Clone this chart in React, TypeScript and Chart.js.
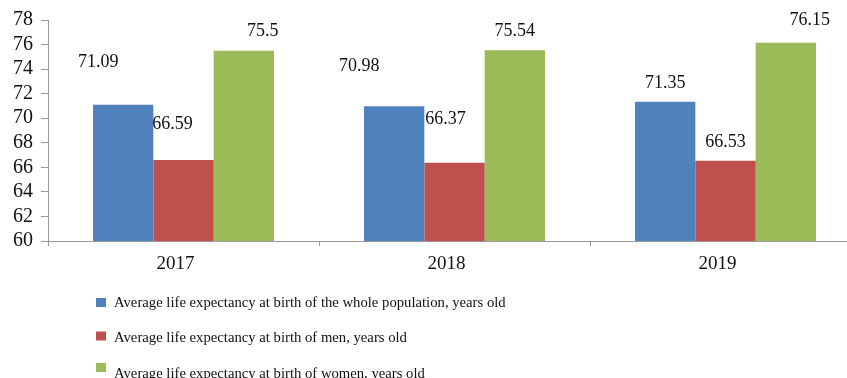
import React, { useEffect, useRef } from "react";
import { Chart, registerables } from "chart.js";

Chart.register(...registerables);

const categories = ["2017", "2018", "2019"];
const seriesNames = [
  "Average life expectancy at birth of the whole population, years old",
  "Average life expectancy at birth of men, years old",
  "Average life expectancy at birth of women, years old",
];
const wholePopulation = [71.09, 70.98, 71.35];
const men = [66.59, 66.37, 66.53];
const women = [75.5, 75.54, 76.15];
const yMin = 60;
const yMax = 78;
const yStep = 2;

const colors = ["#4F81BD", "#C0504D", "#9BBB59"];
// label offsets (text centre relative to bar top centre)
const labelOffsets = [
  [[-25, -43], [-35, -40], [0, -18]],
  [[-11, -36], [-9, -44], [0, -19]],
  [[19, -19], [0, -19], [24, -22]],
];
const legendBoxShift = [0, -2, -6];

const FONT = "'Liberation Serif', 'Times New Roman', serif";

const valueLabels = {
  id: "valueLabels",
  afterDatasetsDraw(chart: any) {
    const ctx = chart.ctx;
    ctx.save();
    ctx.font = `18px ${FONT}`;
    ctx.fillStyle = "#111";
    ctx.textAlign = "center";
    ctx.textBaseline = "middle";
    chart.data.datasets.forEach((ds: any, di: number) => {
      const meta = chart.getDatasetMeta(di);
      meta.data.forEach((bar: any, i: number) => {
        const off = labelOffsets[di][i];
        ctx.fillText(String(ds.data[i]), bar.x + off[0], bar.y + off[1]);
      });
    });
    ctx.restore();
  },
};

const customLegend = {
  id: "customLegend",
  afterDraw(chart: any) {
    const ctx = chart.ctx;
    const area = chart.chartArea;
    ctx.save();
    ctx.font = `14.7px ${FONT}`;
    ctx.textBaseline = "middle";
    ctx.textAlign = "left";
    chart.data.datasets.forEach((ds: any, i: number) => {
      const y = area.bottom + 62 + i * 35.5;
      const x = area.left + 48;
      ctx.fillStyle = ds.backgroundColor;
      ctx.fillRect(x, y - 5 + legendBoxShift[i], 10, 9);
      ctx.fillStyle = "#111";
      ctx.fillText(ds.label, x + 18, y);
    });
    ctx.restore();
  },
};

export default function App() {
  const ref = useRef<HTMLCanvasElement | null>(null);
  useEffect(() => {
    if (!ref.current) return;
    const chart = new Chart(ref.current, {
      type: "bar",
      data: {
        labels: categories,
        datasets: [
          { label: seriesNames[0], data: wholePopulation, backgroundColor: colors[0] },
          { label: seriesNames[1], data: men, backgroundColor: colors[1] },
          { label: seriesNames[2], data: women, backgroundColor: colors[2] },
        ],
      },
      options: {
        responsive: false,
        animation: false,
        devicePixelRatio: 1,
        layout: { padding: { top: 20, left: 13, right: 9, bottom: 97 } },
        datasets: { bar: { barPercentage: 1, categoryPercentage: 0.668 } },
        plugins: { legend: { display: false }, tooltip: { enabled: false } },
        scales: {
          x: {
            offset: true,
            grid: { offset: true, drawOnChartArea: false, drawTicks: true, tickLength: 5, color: "#999" },
            border: { color: "#999" },
            ticks: { color: "#111", font: { family: FONT, size: 19 }, padding: 7, labelOffset: -8 },
            afterFit: (s: any) => { s.height = 40; },
          },
          y: {
            min: yMin,
            max: yMax,
            ticks: { stepSize: yStep, autoSkip: false, color: "#111", font: { family: FONT, size: 20 }, padding: 8 },
            grid: { drawOnChartArea: false, drawTicks: true, tickLength: 7, color: "#999" },
            border: { color: "#999" },
            afterFit: (s: any) => { s.width = 35; },
          },
        },
      },
      plugins: [valueLabels, customLegend],
    });
    return () => chart.destroy();
  }, []);
  return (
    <div style={{ position: "fixed", left: 0, top: 0, width: 847, height: 378, overflow: "hidden", background: "#fff" }}>
      <canvas ref={ref} width={870} height={378} style={{ width: 870, height: 378, display: "block" }} />
    </div>
  );
}
